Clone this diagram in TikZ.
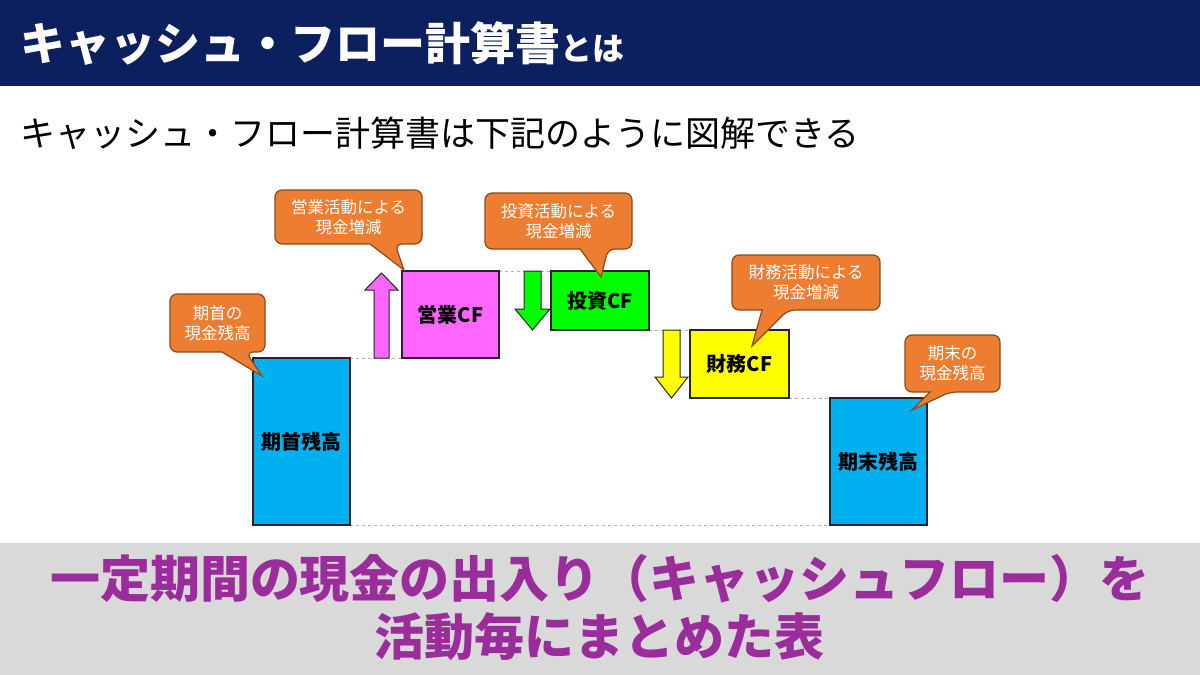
\documentclass[tikz,border=0pt]{standalone}
\usepackage{fontspec}
\setmainfont{Noto Sans CJK JP}
\begin{document}
\begin{tikzpicture}[x=1pt,y=-1pt,
  bar/.style={draw=black!85,line width=1.5pt},
  lbl/.style={font=\fontsize{20}{22}\selectfont\bfseries,text=black},
  dl/.style={draw=gray!60,dashed,line width=0.8pt},
  co/.style={fill=coC,draw=coB,line width=1.2pt},
  cot/.style={text=white,font=\fontsize{16.5}{20}\selectfont,align=center},
  blk/.style={draw=black!85,line width=1pt}]
\definecolor{coC}{HTML}{ED7D31}\definecolor{coB}{HTML}{8A4A1C}
\definecolor{navy}{HTML}{0C1F5E}\definecolor{blu}{HTML}{00B0F0}
\definecolor{mag}{HTML}{FF66FF}\definecolor{grn}{HTML}{00FF00}
\definecolor{ylw}{HTML}{FFFF00}\definecolor{pur}{HTML}{9B2C9B}
\useasboundingbox (0,0) rectangle (1200,675);
\fill[navy] (0,0) rectangle (1200,86);
\node[anchor=west,text=white,font=\fontsize{45}{50}\selectfont\bfseries,inner sep=0pt] (title) at (20,44) {キャッシュ・フロー計算書{\fontsize{32}{36}\selectfont とは}};
\node[anchor=west,font=\fontsize{35}{40}\selectfont,inner sep=0pt] (sub) at (20,133) {キャッシュ・フロー計算書は下記のように図解できる};
\fill[gray!30] (0,543) rectangle (1200,675);
\node[text=pur,font=\fontsize{50}{58}\selectfont\bfseries,align=center] (bot) at (600,608) {一定期間の現金の出入り（キャッシュフロー）を\\活動毎にまとめた表};
% dashed
\draw[dl] (350,525) -- (830,525);
\draw[dl] (350,358) -- (402,358);
\draw[dl] (499,271) -- (551,271);
\draw[dl] (649,330) -- (690,330);
\draw[dl] (789,398) -- (830,398);
% bars
\node[bar,fill=blu,minimum width=97pt,minimum height=167pt,lbl] (b1) at (301.5,441.5) {期首残高};
\node[bar,fill=blu,minimum width=97pt,minimum height=127pt,lbl] (b5) at (878.5,461.5) {期末残高};
\node[bar,fill=mag,minimum width=97pt,minimum height=87pt,lbl] (b2) at (450.5,314.5) {営業CF};
\node[bar,fill=grn,minimum width=98pt,minimum height=59pt,lbl] (b3) at (600,300.5) {投資CF};
\node[bar,fill=ylw,minimum width=99pt,minimum height=68pt,lbl] (b4) at (739.5,364) {財務CF};
% block arrows
\draw[blk,fill=mag] (374,358) -- (374,290) -- (365,290) -- (381.5,273) -- (398,290) -- (389,290) -- (389,358) -- cycle;
\draw[blk,fill=grn] (524,271) -- (524,309) -- (515,309) -- (532.5,330) -- (550,309) -- (541,309) -- (541,271) -- cycle;
\draw[blk,fill=ylw] (663,330) -- (663,377) -- (655,377) -- (671.5,398) -- (688,377) -- (680,377) -- (680,330) -- cycle;
% callouts
\newcommand{\mycallout}[8]{%
 \draw[co,rounded corners=7pt] (#1,#2) -- (#3,#2) -- (#3,#4) -- (#6,#4) [sharp corners] -- #7 -- (#5,#4) [rounded corners=7pt] -- (#1,#4) -- cycle;
 \node[cot] (#8) at ({(#1+#3)/2},{(#2+#4)/2}) {};}
\mycallout{170}{294}{265}{352}{222}{246}{(262,376)}{c1}
\node[cot] at (c1) {期首の\\現金残高};
\mycallout{275}{190}{422}{244}{370}{395}{(404,270)}{c2}
\node[cot] at (c2) {営業活動による\\現金増減};
\mycallout{485}{193}{632}{249}{580}{608}{(601,277)}{c3}
\node[cot] at (c3) {投資活動による\\現金増減};
\mycallout{732}{255}{880}{310}{762}{788}{(752,346)}{c4}
\node[cot] at (c4) {財務活動による\\現金増減};
\mycallout{905}{335}{1000}{392}{930}{950}{(912,410)}{c5}
\node[cot] at (c5) {期末の\\現金残高};
\end{tikzpicture}
\end{document}
